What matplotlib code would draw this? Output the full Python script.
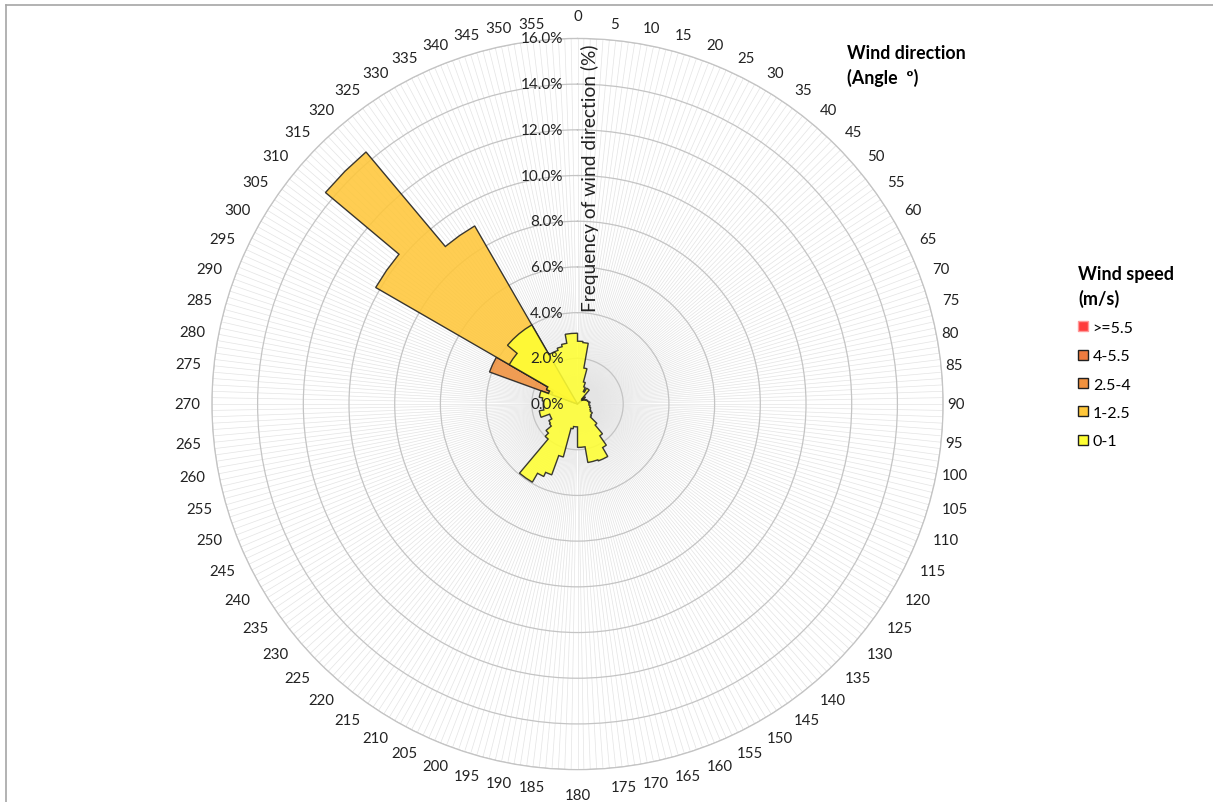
import numpy as np
import matplotlib.pyplot as plt
from matplotlib import transforms

plt.rcParams['font.family'] = ['Lato', 'DejaVu Sans']

# direction bins, each one covers 5 degrees starting at the value
directions = np.arange(0, 360, 5)
direction_labels = [str(d) for d in directions]

speed_classes = [">=5.5", "4-5.5", "2.5-4", "1-2.5", "0-1"]
class_colors = ["#FF3B3B", "#EE7B3F", "#F0913E", "#FFC73A", "#FFFF33"]
edge_colors = ["#FF9A9A", "#202020", "#202020", "#202020", "#202020"]

# frequency of wind direction (%) for every 5 degree bin, 0..355
freq_over_55 = [0.0, 0.0, 0.0, 0.0, 0.0, 0.0, 0.0, 0.0, 0.0, 0.0, 0.0, 0.0,
                0.0, 0.0, 0.0, 0.0, 0.0, 0.0, 0.0, 0.0, 0.0, 0.0, 0.0, 0.0,
                0.0, 0.0, 0.0, 0.0, 0.0, 0.0, 0.0, 0.0, 0.0, 0.0, 0.0, 0.0,
                0.0, 0.0, 0.0, 0.0, 0.0, 0.0, 0.0, 0.0, 0.0, 0.0, 0.0, 0.0,
                0.0, 0.0, 0.0, 0.0, 0.0, 0.0, 0.0, 0.0, 0.0, 0.0, 0.0, 0.0,
                0.0, 0.0, 0.0, 0.0, 0.0, 0.0, 0.0, 0.0, 0.0, 0.0, 0.0, 0.0]
freq_4_55 = [0.0, 0.0, 0.0, 0.0, 0.0, 0.0, 0.0, 0.0, 0.0, 0.0, 0.0, 0.0,
             0.0, 0.0, 0.0, 0.0, 0.0, 0.0, 0.0, 0.0, 0.0, 0.0, 0.0, 0.0,
             0.0, 0.0, 0.0, 0.0, 0.0, 0.0, 0.0, 0.0, 0.0, 0.0, 0.0, 0.0,
             0.0, 0.0, 0.0, 0.0, 0.0, 0.0, 0.0, 0.0, 0.0, 0.0, 0.0, 0.0,
             0.0, 0.0, 0.0, 0.0, 0.0, 0.0, 0.0, 0.0, 0.0, 0.0, 0.0, 0.0,
             0.0, 0.0, 0.0, 0.0, 0.0, 0.0, 0.0, 0.0, 0.0, 0.0, 0.0, 0.0]
freq_25_4 = [0.0, 0.0, 0.0, 0.0, 0.0, 0.0, 0.0, 0.0, 0.0, 0.0, 0.0, 0.0,
             0.0, 0.0, 0.0, 0.0, 0.0, 0.0, 0.0, 0.0, 0.0, 0.0, 0.0, 0.0,
             0.0, 0.0, 0.0, 0.0, 0.0, 0.0, 0.0, 0.0, 0.0, 0.0, 0.0, 0.0,
             0.0, 0.0, 0.0, 0.0, 0.0, 0.0, 0.0, 0.0, 0.0, 0.0, 0.0, 0.0,
             0.0, 0.0, 0.0, 0.0, 0.0, 0.0, 0.0, 0.0, 0.0, 0.0, 4.1, 4.1,
             0.0, 0.0, 0.0, 0.0, 0.0, 0.0, 0.0, 0.0, 0.0, 0.0, 0.0, 0.0]
freq_1_25 = [0.0, 0.0, 0.0, 0.0, 0.0, 0.0, 0.0, 0.0, 0.0, 0.45, 0.0, 0.0,
             0.0, 0.0, 0.0, 0.0, 0.0, 0.0, 0.0, 0.0, 0.0, 0.0, 0.0, 0.0,
             0.0, 0.0, 0.0, 0.0, 0.0, 0.0, 0.0, 0.0, 0.0, 0.0, 0.0, 0.0,
             0.0, 0.0, 0.0, 0.0, 0.0, 0.0, 0.0, 0.0, 0.0, 0.0, 0.0, 0.0,
             0.0, 0.0, 0.0, 0.0, 0.0, 0.0, 0.0, 0.0, 0.0, 0.0, 1.2, 1.5,
             10.2, 10.2, 14.4, 14.4, 9.0, 9.0, 0.0, 0.0, 0.0, 0.0, 0.0, 0.0]
freq_0_1 = [2.75, 2.7, 1.6, 1.0, 0.8, 0.6, 0.8, 0.8, 0.3, 0.25, 0.3, 0.35,
            0.4, 0.45, 0.45, 0.5, 0.55, 0.5, 0.5, 0.55, 0.55, 0.6, 0.6, 0.65,
            0.75, 0.75, 0.8, 1.2, 1.7, 2.2, 2.65, 2.65, 2.6, 2.6, 1.9, 1.9,
            1.0, 1.0, 1.1, 2.4, 3.3, 3.5, 3.95, 3.95, 2.0, 1.8, 1.5, 1.45,
            1.3, 1.3, 1.7, 1.7, 1.5, 1.5, 1.5, 1.55, 1.7, 1.7, 1.35, 1.5,
            3.45, 3.45, 4.0, 4.0, 4.0, 4.0, 2.5, 2.5, 2.6, 2.7, 3.1, 3.1]

series = [freq_over_55, freq_4_55, freq_25_4, freq_1_25, freq_0_1]

fig = plt.figure(figsize=(12.13, 8.03), dpi=100)
ax = fig.add_axes([0.1747, 0.0403, 0.6028, 0.9106], projection='polar')
ax.set_theta_zero_location('N')
ax.set_theta_direction(-1)

# each bin is drawn as a flat step between its start and end angle
theta_steps = np.deg2rad(np.column_stack([directions, directions + 5]).ravel())
handles = []
for vals, col, ec, name in zip(series, class_colors, edge_colors, speed_classes):
    r_steps = np.repeat(vals, 2)
    h = ax.fill(theta_steps, r_steps, facecolor=col, edgecolor=ec,
                linewidth=1.0, alpha=0.88, label=name, zorder=3)[0]
    handles.append(h)

# grid: rings every 2 %, dense spokes every degree
ax.set_ylim(0, 16)
ax.set_yticks(np.arange(0, 17, 2))
ax.set_yticklabels([])
ax.set_xticks(np.deg2rad(np.arange(0, 360, 1)))
ax.set_xticklabels([])
ax.yaxis.grid(True, color='#C4C4C4', linewidth=0.9)
ax.xaxis.grid(True, color='#E4E4E4', linewidth=0.5)
ax.spines['polar'].set_color('#C4C4C4')
ax.spines['polar'].set_linewidth(0.9)
ax.tick_params(length=0)

# radial axis labels along the north spoke
lab_trans = transforms.offset_copy(ax.transData, fig=fig, x=-14, y=0, units='dots')
for v in np.arange(0, 17, 2):
    ax.text(0, v, "%.1f%%" % v, transform=lab_trans, ha='right', va='center',
            fontsize=11, color='#222222', zorder=5)

# direction labels round the outside
for d, lab in zip(directions, direction_labels):
    a = np.deg2rad(d)
    s, c = np.sin(a), np.cos(a)
    ha = 'left' if s > 0.05 else ('right' if s < -0.05 else 'center')
    va = 'bottom' if c > 0.05 else ('top' if c < -0.05 else 'center')
    if abs(s) < 0.05:
        gap = 21 if c > 0 else 18
    elif s > 0.967:
        gap = 4
    else:
        gap = 12
    dy = gap * c * (0.75 if c > 0 else 1.0)
    tr = transforms.offset_copy(ax.transData, fig=fig, x=gap * s, y=dy, units='dots')
    ax.text(a, 16, lab, transform=tr, ha=ha, va=va, fontsize=10.8, color='#222222')

fig.text(590 / 1213, 1 - 178 / 803, "Frequency of wind direction (%)", rotation=90,
         ha='center', va='center', fontsize=13.8, color='#222222')

fig.text(847 / 1213, 1 - 45 / 803, "Wind direction\n(Angle  º)", ha='left', va='top',
         fontsize=12.8, fontweight='bold', linespacing=1.45)

leg = fig.legend(handles=handles, labels=speed_classes, loc='upper left',
                 bbox_to_anchor=(1064 / 1213, 1 - 252 / 803), frameon=False,
                 title="Wind speed\n(m/s)", alignment='left',
                 handlelength=0.6, handleheight=0.6, handletextpad=0.3,
                 labelspacing=0.9, fontsize=11.5)
leg.get_title().set_fontweight('bold')
leg.get_title().set_fontsize(13)
leg.get_title().set_linespacing(1.4)
for h in leg.legend_handles:
    h.set_alpha(1)

# chart border (top and left visible)
fig.add_artist(plt.Line2D([6 / 1213, 6 / 1213], [0, 1 - 6 / 803], color='#A6A6A6', lw=1.2))
fig.add_artist(plt.Line2D([6 / 1213, 1], [1 - 6 / 803, 1 - 6 / 803], color='#A6A6A6', lw=1.2))

fig.savefig("out.png", dpi=100)
